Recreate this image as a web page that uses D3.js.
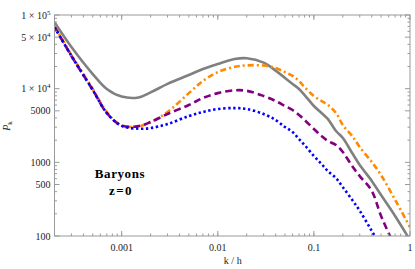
<!DOCTYPE html>
<html>
<head>
<meta charset="utf-8">
<script src="https://cdn.jsdelivr.net/npm/d3@7"></script>
<style>
  body { margin: 0; background: #fff; }
  text { font-family: "Liberation Serif", "DejaVu Serif", serif; }
</style>
</head>
<body>
<svg id="chart" width="415" height="269"></svg>
<script>
// wavenumber grid (k / h)
var kValues = [0.0002, 0.0003, 0.0005, 0.0007, 0.001, 0.0015, 0.002, 0.003, 0.005, 0.007,
	0.01, 0.015, 0.02, 0.03, 0.04, 0.05, 0.06, 0.07, 0.08, 0.1,
	0.12, 0.14, 0.17, 0.2, 0.25, 0.3, 0.4, 0.5, 0.7, 1.0];

// P_k for the four curves
var grayP = [80000, 36800, 15800, 9900, 7800, 7600, 8900, 11600, 15300, 18500,
	21600, 25300, 25900, 22600, 17600, 14000, 11600, 9900, 8200, 5820,
	4670, 3870, 2660, 2140, 1340, 920, 560, 360, 187, 88];
var orangeP = [71000, 28600, 9900, 4820, 3150, 3080, 3500, 4820, 8700, 12700,
	16800, 19800, 20700, 20600, 19100, 16800, 14900, 12700, 10500, 7950,
	6800, 6000, 4670, 3210, 2280, 1610, 1010, 670, 310, 132];
var purpleP = [68700, 27800, 9600, 4670, 3150, 3100, 3530, 4530, 6000, 7460,
	8700, 9500, 9350, 7950, 6800, 5820, 5130, 4390, 3750, 2840,
	2280, 1950, 1720, 1380, 890, 650, 410, 187, 73, 35];
var blueP = [68700, 27800, 9600, 4670, 3130, 2860, 2920, 3310, 4250, 4820,
	5300, 5450, 5300, 4530, 3750, 3020, 2580, 2070, 1720, 1220,
	950, 760, 610, 460, 310, 220, 117, 71, 35, 16];

var xTicks = [0.001, 0.01, 0.1, 1];
var xTickLabels = ["0.001", "0.01", "0.1", "1"];
var yTicks = [100, 500, 1000, 5000, 10000, 50000, 100000];
var yTickLabels = [["100"], ["500"], ["1000"], ["5000"], ["1 \u00d7 10", "4"], ["5 \u00d7 10", "4"], ["1 \u00d7 10", "5"]];

var series = [
	{ name: "gray", values: grayP, color: "#808080", dash: null },
	{ name: "orange", values: orangeP, color: "#ff8a00", dash: "6,3,2,3" },
	{ name: "purple", values: purpleP, color: "#800080", dash: "7,4" },
	{ name: "blue", values: blueP, color: "#0000ff", dash: "2.4,2.6" }
];

var m = { left: 54.5, right: 410, top: 15, bottom: 236 };
var svg = d3.select("#chart");

var x = d3.scaleLog().domain([0.0002, 1]).range([m.left, m.right]);
var y = d3.scaleLog().domain([100, 100000]).range([m.bottom, m.top]);

// minor tick positions
var xMinor = [], yMinor = [];
[-4, -3, -2, -1].forEach(function(e) {
	for (var j = 1; j < 10; j++) {
		var v = j * Math.pow(10, e);
		if (v >= 0.0002 && v <= 1) xMinor.push(v);
	}
});
[2, 3, 4].forEach(function(e) {
	for (var j = 1; j < 10; j++) {
		var v = j * Math.pow(10, e);
		if (v >= 100 && v <= 100000 && yTicks.indexOf(v) < 0) yMinor.push(v);
	}
});

svg.append("clipPath").attr("id", "clip")
	.append("rect")
		.attr("x", m.left).attr("y", m.top)
		.attr("width", m.right - m.left).attr("height", m.bottom - m.top);

var line = d3.line()
	.x(function(d) { return x(d[0]); })
	.y(function(d) { return y(d[1]); })
	.curve(d3.curveCatmullRom.alpha(0.5));

var plot = svg.append("g").attr("clip-path", "url(#clip)");
series.forEach(function(s) {
	var pts = kValues.map(function(k, i) { return [k, s.values[i]]; });
	plot.append("path")
		.attr("d", line(pts))
		.attr("fill", "none")
		.attr("stroke", s.color)
		.attr("stroke-width", 2.6)
		.attr("stroke-dasharray", s.dash);
});

// frame
var frame = svg.append("g").attr("stroke", "#9a9a9a").attr("stroke-width", 1);
frame.append("rect")
	.attr("x", m.left).attr("y", m.top)
	.attr("width", m.right - m.left).attr("height", m.bottom - m.top)
	.attr("fill", "none");

function tick(g, x1, y1, x2, y2) {
	g.append("line").attr("x1", x1).attr("y1", y1).attr("x2", x2).attr("y2", y2);
}
xTicks.forEach(function(v) {
	tick(frame, x(v), m.bottom, x(v), m.bottom - 5);
	tick(frame, x(v), m.top, x(v), m.top + 5);
});
xMinor.forEach(function(v) {
	tick(frame, x(v), m.bottom, x(v), m.bottom - 2.5);
	tick(frame, x(v), m.top, x(v), m.top + 2.5);
});
yTicks.forEach(function(v) {
	tick(frame, m.left, y(v), m.left + 5, y(v));
	tick(frame, m.right, y(v), m.right - 5, y(v));
});
yMinor.forEach(function(v) {
	tick(frame, m.left, y(v), m.left + 2.5, y(v));
	tick(frame, m.right, y(v), m.right - 2.5, y(v));
});

// tick labels
xTicks.forEach(function(v, i) {
	svg.append("text")
		.attr("x", x(v)).attr("y", m.bottom + 15)
		.attr("text-anchor", "middle")
		.attr("font-size", 10).attr("fill", "#222")
		.text(xTickLabels[i]);
});
yTicks.forEach(function(v, i) {
	var t = svg.append("text")
		.attr("x", m.left - 4).attr("y", y(v) + 3.5)
		.attr("text-anchor", "end")
		.attr("font-size", 10).attr("fill", "#222");
	var lab = yTickLabels[i];
	t.append("tspan").text(lab[0]);
	if (lab.length > 1) {
		t.append("tspan").attr("dy", -4).attr("font-size", 7).text(lab[1]);
	}
});

// axis labels
svg.append("text")
	.attr("x", (m.left + m.right) / 2 + 0.5).attr("y", 264)
	.attr("text-anchor", "middle")
	.attr("font-size", 10).attr("fill", "#222")
	.text("k / h");

var yl = svg.append("text")
	.attr("transform", "translate(10,126) rotate(-90)")
	.attr("text-anchor", "middle")
	.attr("font-size", 10).attr("fill", "#222");
yl.append("tspan").attr("font-style", "italic").text("P");
yl.append("tspan").attr("font-size", 7).attr("dy", 2).text("k");

// annotation
svg.append("text")
	.attr("x", 120).attr("y", 178)
	.attr("text-anchor", "middle")
	.attr("font-size", 13).attr("font-weight", "bold")
	.attr("letter-spacing", 0.6)
	.text("Baryons");
svg.append("text")
	.attr("x", 121).attr("y", 195)
	.attr("text-anchor", "middle")
	.attr("font-size", 13).attr("font-weight", "bold")
	.attr("letter-spacing", 1.5)
	.text("z=0");
</script>
</body>
</html>
